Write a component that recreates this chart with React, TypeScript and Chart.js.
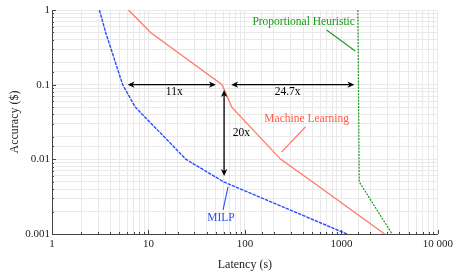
import { useEffect, useRef } from 'react';
import { Chart, registerables } from 'chart.js';
Chart.register(...registerables);

// ---- data ----
const milpLatency = [3.1, 3.6, 5.4, 7.3, 24.5, 60, 1140];
const milpAccuracy = [1, 0.5, 0.1, 0.05, 0.01, 0.005, 0.001];
const mlLatency = [6.2, 10.5, 58, 73, 235, 500, 2800];
const mlAccuracy = [1, 0.5, 0.1, 0.05, 0.01, 0.005, 0.001];
const heurLatency = [1480, 1530, 3350];
const heurAccuracy = [1, 0.005, 0.001];

const xMajorValues = [1, 10, 100, 1000, 10000];
const xTickLabels = ['1', '10', '100', '1000', '10 000'];
const yMajorValues = [1, 0.1, 0.01, 0.001];
const yTickLabels = ['1', '0.1', '0.01', '0.001'];

// annotations (data coordinates)
const arrowStarts = [[6.07, 0.1], [72, 0.1], [60.8, 0.085]];
const arrowEnds = [[50, 0.1], [1365, 0.1], [60.8, 0.006]];
const noteTexts = ['11x', '24.7x', '20x', 'Machine Learning', 'MILP', 'Proportional Heuristic'];
const notePos = [[18.5, 0.08], [277, 0.08], [92, 0.0225], [436, 0.0348], [56.4, 0.00165], [406, 0.691]];
const noteColors = ['#000', '#000', '#000', '#ff5a45', '#2a4dff', '#1a9a1a'];
const leaderStarts = [[424, 0.0272], [66.8, 0.00427], [702, 0.54]];
const leaderEnds = [[240, 0.0126], [59.3, 0.00211], [1390, 0.282]];
const leaderColors = ['#ff6a58', '#2a4dff', '#1a9a1a'];

const SERIF = "'Liberation Serif', 'Times New Roman', serif";
const BLUE = '#2a4dff';
const RED = '#ff7a68';
const GREEN = '#1a9a1a';

function pts(xs: number[], ys: number[]) {
  return xs.map((v, i) => ({ x: v, y: ys[i] }));
}
function labelFor(values: number[], labels: string[], v: number) {
  const i = values.findIndex((m) => Math.abs(m - v) / m < 1e-6);
  return i >= 0 ? labels[i] : '';
}

function arrowHead(ctx: CanvasRenderingContext2D, x: number, y: number, ang: number) {
  const L = 7, W = 3.2, N = 5;
  ctx.save();
  ctx.translate(x, y);
  ctx.rotate(ang);
  ctx.beginPath();
  ctx.moveTo(0, 0);
  ctx.lineTo(-L, -W);
  ctx.lineTo(-N, 0);
  ctx.lineTo(-L, W);
  ctx.closePath();
  ctx.fill();
  ctx.restore();
}

const annotPlugin = {
  id: 'annot',
  afterDraw(chart: any) {
    const { ctx, scales } = chart;
    const xs = scales.x, ys = scales.y;
    const px = (v: number) => xs.getPixelForValue(v);
    const py = (v: number) => ys.getPixelForValue(v);
    ctx.save();
    // small inward tick marks
    ctx.strokeStyle = '#444';
    ctx.lineWidth = 1;
    const area = chart.chartArea;
    xs.ticks.forEach((t: any) => {
      const p = Math.round(px(t.value)) + 0.5;
      const major = labelFor(xMajorValues, xTickLabels, t.value) !== '';
      ctx.beginPath();
      ctx.moveTo(p, area.bottom);
      ctx.lineTo(p, area.bottom - (major ? 4 : 2));
      ctx.stroke();
    });
    ys.ticks.forEach((t: any) => {
      const p = Math.round(py(t.value)) + 0.5;
      const major = labelFor(yMajorValues, yTickLabels, t.value) !== '';
      ctx.beginPath();
      ctx.moveTo(area.left, p);
      ctx.lineTo(area.left + (major ? 4 : 2), p);
      ctx.stroke();
    });
    // arrows
    ctx.strokeStyle = '#000';
    ctx.fillStyle = '#000';
    ctx.lineWidth = 1.3;
    arrowStarts.forEach((s, i) => {
      const e = arrowEnds[i];
      const x1 = px(s[0]), y1 = py(s[1]), x2 = px(e[0]), y2 = py(e[1]);
      const ang = Math.atan2(y2 - y1, x2 - x1);
      ctx.beginPath();
      ctx.moveTo(x1 + 4 * Math.cos(ang), y1 + 4 * Math.sin(ang));
      ctx.lineTo(x2 - 4 * Math.cos(ang), y2 - 4 * Math.sin(ang));
      ctx.stroke();
      arrowHead(ctx, x2, y2, ang);
      arrowHead(ctx, x1, y1, ang + Math.PI);
    });
    // leader lines
    ctx.lineWidth = 1.1;
    leaderStarts.forEach((s, i) => {
      const e = leaderEnds[i];
      ctx.strokeStyle = leaderColors[i];
      ctx.beginPath();
      ctx.moveTo(px(s[0]), py(s[1]));
      ctx.lineTo(px(e[0]), py(e[1]));
      ctx.stroke();
    });
    // texts
    ctx.font = `11.5px ${SERIF}`;
    ctx.textAlign = 'center';
    ctx.textBaseline = 'middle';
    noteTexts.forEach((t, i) => {
      ctx.fillStyle = noteColors[i];
      ctx.fillText(t, px(notePos[i][0]), py(notePos[i][1]));
    });
    ctx.restore();
  },
};

export default function App() {
  const ref = useRef<HTMLCanvasElement | null>(null);
  useEffect(() => {
    if (!ref.current) return;
    const tickFont = { family: SERIF, size: 11 };
    const chart = new Chart(ref.current, {
      type: 'line',
      data: {
        datasets: [
          {
            label: 'MILP',
            data: pts(milpLatency, milpAccuracy),
            borderColor: BLUE,
            borderWidth: 1.4,
            borderDash: [3.5, 1],
            pointRadius: 0,
            tension: 0,
          },
          {
            label: 'Machine Learning',
            data: pts(mlLatency, mlAccuracy),
            borderColor: RED,
            borderWidth: 1.3,
            pointRadius: 0,
            tension: 0,
          },
          {
            label: 'Proportional Heuristic',
            data: pts(heurLatency, heurAccuracy),
            borderColor: GREEN,
            borderWidth: 1.2,
            borderDash: [2, 1.2],
            pointRadius: 0,
            tension: 0,
          },
        ],
      },
      options: {
        animation: false,
        responsive: true,
        maintainAspectRatio: false,
        layout: { padding: { top: 10, right: 17, bottom: 0, left: 0 } },
        plugins: { legend: { display: false }, tooltip: { enabled: false } },
        scales: {
          x: {
            type: 'logarithmic',
            min: 1,
            max: 10000,
            grid: { color: '#e9e9e9', drawTicks: false },
            border: { color: '#444', width: 1 },
            ticks: {
              autoSkip: false,
              maxRotation: 0,
              padding: 4,
              color: '#222',
              font: tickFont,
              callback: (v: any) => labelFor(xMajorValues, xTickLabels, Number(v)),
            },
            title: {
              display: true,
              text: 'Latency (s)',
              color: '#222',
              font: { family: SERIF, size: 12 },
              padding: { top: 0, bottom: 2 },
            },
            afterFit: (s: any) => { s.height = 40; },
          },
          y: {
            type: 'logarithmic',
            min: 0.001,
            max: 1,
            grid: { color: '#e9e9e9', drawTicks: false },
            border: { color: '#444', width: 1 },
            ticks: {
              autoSkip: false,
              padding: 2,
              color: '#222',
              font: tickFont,
              callback: (v: any) => labelFor(yMajorValues, yTickLabels, Number(v)),
            },
            title: {
              display: true,
              text: 'Accuracy ($)',
              color: '#222',
              font: { family: SERIF, size: 12 },
              padding: { top: 8, bottom: 0 },
            },
            afterFit: (s: any) => { s.width = 52; },
          },
        },
      },
      plugins: [annotPlugin],
    });
    return () => chart.destroy();
  }, []);
  return (
    <div style={{ position: 'absolute', left: 0, top: 0, width: 457, height: 274 }}>
      <canvas ref={ref} style={{ display: 'block' }} />
    </div>
  );
}
